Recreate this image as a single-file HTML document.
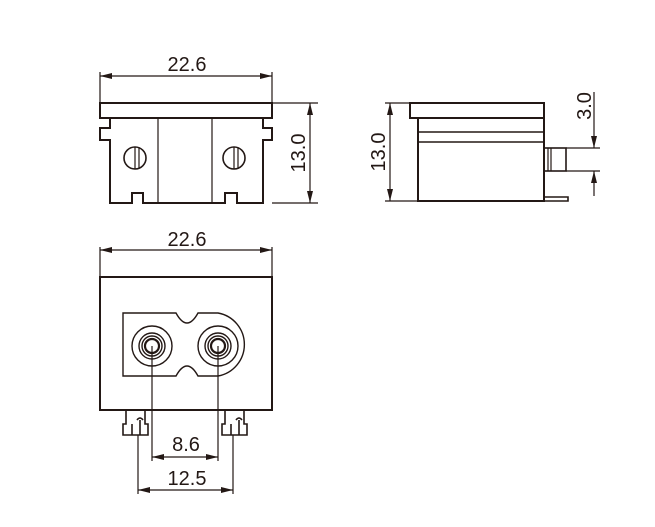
<!DOCTYPE html>
<html><head><style>body{margin:0;background:#fff}svg{display:block}</style></head><body>
<svg width="655" height="527" viewBox="0 0 655 527" xmlns="http://www.w3.org/2000/svg" font-family="Liberation Sans, sans-serif">
<defs>
<marker id="a" viewBox="0 0 12 6" refX="12" refY="3" markerWidth="12" markerHeight="6" markerUnits="userSpaceOnUse" orient="auto-start-reverse"><path d="M0,0 L12,3 L0,6z" fill="#231815"/></marker>
</defs>
<g stroke="#231815" fill="none" stroke-width="2">
<rect x="100" y="103" width="172" height="15"/>
<path d="M110,118 V128 H100 V140 H110 V203 H132 V193 H143 V203 H225 V193 H237 V203 H263 V140 H272 V128 H263 V118"/>
<path d="M158,118 V203 M212,118 V203" stroke-width="1.2"/>
<circle cx="135" cy="158" r="11" stroke-width="1.6"/>
<circle cx="234" cy="158" r="11" stroke-width="1.6"/>
<path d="M135,147 V169 M234,147 V169 M139,148 V168 M238,148 V168" stroke-width="1.2"/>
<rect x="410" y="103" width="134" height="15"/>
<path d="M418,118 V201 H544 V118"/>
<path d="M418,132 H544 M418,142 H544" stroke-width="1.6"/>
<rect x="544" y="148" width="22" height="23" stroke-width="1.6"/>
<path d="M548,148 V171 M551,148 V171" stroke-width="1.2"/>
<path d="M544,197 H568 V201 H544" stroke-width="1.6"/>
<rect x="100" y="277" width="172" height="133"/>
<path d="M123,313 H176 Q187,333 198,313 H218 A32,32 0 0 1 218,376 H198 Q187,356 176,376 H123 Z" stroke-width="1.4"/>
<g stroke-width="1.4">
<circle cx="152" cy="346" r="20"/><circle cx="152" cy="346" r="13"/><circle cx="152" cy="346" r="10"/><circle cx="152" cy="346" r="7" stroke-width="2.2"/>
<circle cx="218" cy="346" r="20"/><circle cx="218" cy="346" r="13"/><circle cx="218" cy="346" r="10"/><circle cx="218" cy="346" r="7" stroke-width="2.2"/>
</g>
<g stroke-width="1.6">
<path d="M126,410 V424 H123 V435 H148 V424 H145 V410"/>
<path d="M132,424 V435 M140,420 V435 M137,420 Q140,416 143,420"/>
<path d="M225,410 V424 H222 V435 H247 V424 H244 V410"/>
<path d="M231,424 V435 M239,420 V435 M236,420 Q239,416 242,420"/>
</g>
</g>
<g stroke="#231815" stroke-width="1.2" fill="none">
<path d="M100,72 V103 M272,72 V103"/>
<path d="M100,76 H272" marker-start="url(#a)" marker-end="url(#a)"/>
<path d="M272,103 H318 M272,203 H318"/>
<path d="M310,103 V203" marker-start="url(#a)" marker-end="url(#a)"/>
<path d="M385,103 H410 M385,201 H418"/>
<path d="M390,103 V201" marker-start="url(#a)" marker-end="url(#a)"/>
<path d="M566,148 H600 M566,171 H600"/>
<path d="M594,92 V148" marker-end="url(#a)"/>
<path d="M594,196 V171" marker-end="url(#a)"/>
<path d="M100,247 V277 M272,247 V277"/>
<path d="M100,250 H272" marker-start="url(#a)" marker-end="url(#a)"/>
<path d="M152,346 V461 M218,346 V461"/>
<path d="M152,457 H218" marker-start="url(#a)" marker-end="url(#a)"/>
<path d="M138,435 V494 M233,435 V494"/>
<path d="M138,490 H233" marker-start="url(#a)" marker-end="url(#a)"/>
</g>
<g fill="#231815" font-size="20" text-anchor="middle">
<text x="187" y="71">22.6</text>
<text x="187" y="246">22.6</text>
<text x="186" y="451">8.6</text>
<text x="187" y="485">12.5</text>
<text transform="translate(305,153) rotate(-90)">13.0</text>
<text transform="translate(385,152) rotate(-90)">13.0</text>
<text transform="translate(591,106) rotate(-90)">3.0</text>
</g>
</svg>
</body></html>
